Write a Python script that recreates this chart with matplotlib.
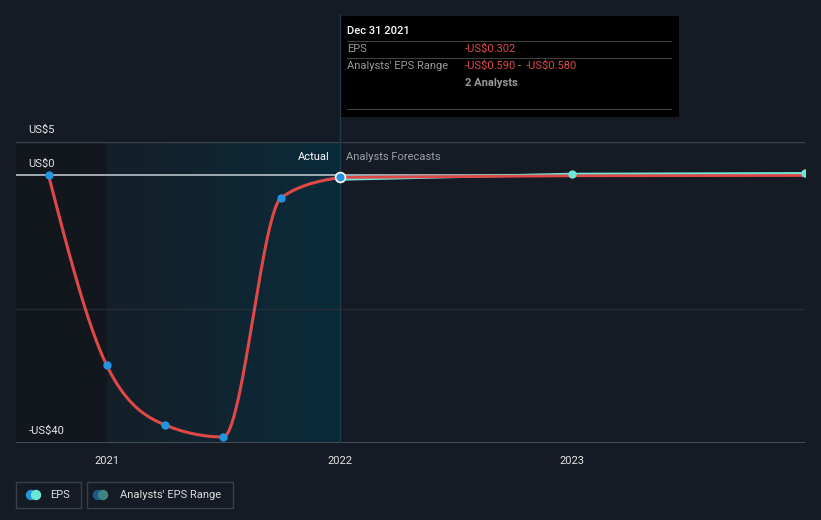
from matplotlib import pyplot as plt
from matplotlib.patches import Rectangle, Circle
from matplotlib.lines import Line2D
import numpy as np

plt.rcParams['font.family'] = ['Roboto', 'DejaVu Sans']

# 历史 EPS（年份小数）
hist_x = [2020.75, 2021.0, 2021.25, 2021.5, 2021.75, 2022.0]
hist_eps = [0.0, -28.4, -37.3, -39.1, -3.3, -0.302]

# 预测
fc_x = [2022.0, 2023.0, 2024.0]
fc_eps = [-0.302, -0.05, 0.0]
fc_range = [-0.585, 0.2, 0.3]

year_ticks = [2021, 2022, 2023]
y_labels = {5: 'US$5', 0: 'US$0', -40: '-US$40'}

BG = '#151b24'
RED = '#e04848'
BLUE = '#2394df'
CYAN = '#6ee6d6'


def monotone(x, y, n=60):
    # d3 curveMonotoneX 的做法
    x = np.asarray(x, float)
    y = np.asarray(y, float)
    h = np.diff(x)
    s = np.diff(y) / h
    t = np.zeros(len(x))
    for i in range(1, len(x) - 1):
        p = (s[i - 1] * h[i] + s[i] * h[i - 1]) / (h[i - 1] + h[i])
        t[i] = (np.sign(s[i - 1]) + np.sign(s[i])) * min(abs(s[i - 1]), abs(s[i]), 0.5 * abs(p))
    t[0] = (3 * s[0] - t[1]) / 2
    t[-1] = (3 * s[-1] - t[-2]) / 2
    xs, ys = [], []
    for i in range(len(x) - 1):
        u = np.linspace(0, 1, n)
        x0, x1 = x[i], x[i + 1]
        dx = (x1 - x0) / 3
        p0, p1 = (x0, y[i]), (x0 + dx, y[i] + dx * t[i])
        p2, p3 = (x1 - dx, y[i + 1] - dx * t[i + 1]), (x1, y[i + 1])
        bx = (1 - u) ** 3 * p0[0] + 3 * (1 - u) ** 2 * u * p1[0] + 3 * (1 - u) * u ** 2 * p2[0] + u ** 3 * p3[0]
        by = (1 - u) ** 3 * p0[1] + 3 * (1 - u) ** 2 * u * p1[1] + 3 * (1 - u) * u ** 2 * p2[1] + u ** 3 * p3[1]
        xs.extend(bx)
        ys.extend(by)
    return np.array(xs), np.array(ys)


fig = plt.figure(figsize=(8.21, 5.2), dpi=100, facecolor=BG)
ax = fig.add_axes([16 / 821, 77 / 520, 789 / 821, 301 / 520])
ax.set_facecolor(BG)
for sp in ax.spines.values():
    sp.set_visible(False)
ax.set_xticks([])
ax.set_yticks([])

# 阴影区域
ax.axvspan(2020.61, 2021.0, color='#12171e', zorder=0, lw=0)
grad = np.linspace(0, 1, 256).reshape(1, -1)
c0 = np.array([0x14, 0x1f, 0x29]) / 255
c1 = np.array([0x0b, 0x2b, 0x3a]) / 255
img = c0[None, None, :] * (1 - grad[..., None]) + c1[None, None, :] * grad[..., None]
ax.imshow(img, extent=[2021.0, 2022.0, -40, 5], aspect='auto', zorder=0.5)
ax.set_xlim(2020.61, 2024.0)
ax.set_ylim(-40, 5)

# 网格
ax.axhline(5, color='#3b424c', lw=1, zorder=1)
ax.axhline(-20, color='#262d36', lw=1, zorder=1)
ax.axhline(-40, color='#50565e', lw=1.2, zorder=1)
ax.axhline(0, color='#b8c2c8', lw=1.2, zorder=2)

# 竖线
ax.plot([2022.0, 2022.0], [-40, 5], color='#1f3a48', lw=1, zorder=1)
fig.add_artist(Line2D([340 / 821, 340 / 821], [378 / 520, 505 / 520], color='#1f3a48', lw=1))

# 曲线
sx, sy = monotone(hist_x, hist_eps)
ax.plot(sx, sy, color=RED, lw=2.2, zorder=3, solid_capstyle='round')
ax.plot(fc_x, fc_range, color=CYAN, lw=2, zorder=3)
ax.plot(fc_x, fc_eps, color=RED, lw=2, zorder=3.5)
ax.scatter(hist_x[:-1], hist_eps[:-1], s=36, color=BLUE, zorder=5, lw=0)
ax.scatter(hist_x[-1:], hist_eps[-1:], s=50, color=BLUE, edgecolors='white', lw=1.2, zorder=6)
ax.scatter(fc_x[1:], fc_range[1:], s=36, color=CYAN, zorder=5, lw=0)

# 标签
for v, lab in y_labels.items():
    ax.annotate(lab, (2020.61, v), xytext=(9, 5), textcoords='offset points',
                color='#e6e6e6', fontsize=8, va='bottom', ha='left')
for yr in year_ticks:
    ax.annotate(str(yr), (yr, -40), xytext=(0, -9), textcoords='offset points',
                color='#e6e6e6', fontsize=8, va='top', ha='center', annotation_clip=False)
ax.annotate('Actual', (2022.0, 5), xytext=(-7, -7), textcoords='offset points',
            color='#ffffff', fontsize=8, va='top', ha='right')
ax.annotate('Analysts Forecasts', (2022.0, 5), xytext=(5, -7), textcoords='offset points',
            color='#9aa0a6', fontsize=8, va='top', ha='left')

# 提示框
def fx(px):
    return px / 821


def fy(py):
    return 1 - py / 520


fig.add_artist(Rectangle((fx(340), fy(117)), fx(339), 101 / 520, color='black', lw=0))
for yy in [41, 58, 109]:
    fig.add_artist(Line2D([fx(347), fx(671)], [fy(yy), fy(yy)], color='#3f3f3f', lw=0.8))
fig.text(fx(347), fy(31), 'Dec 31 2021', color='white', fontsize=8, va='center', weight='medium')
fig.text(fx(347), fy(49), 'EPS', color='#9a9a9a', fontsize=8, va='center')
fig.text(fx(465), fy(49), '-US$0.302', color=RED, fontsize=8, va='center')
fig.text(fx(347), fy(66), "Analysts' EPS Range", color='#9a9a9a', fontsize=8, va='center')
fig.text(fx(465), fy(66), '-US$0.590', color=RED, fontsize=8, va='center')
fig.text(fx(518), fy(66), '-', color='#9a9a9a', fontsize=8, va='center')
fig.text(fx(526), fy(66), '-US$0.580', color=RED, fontsize=8, va='center')
fig.text(fx(465), fy(83), '2 Analysts', color='#9a9a9a', fontsize=8, va='center', weight='bold')

# 图例
for x0, w in [(16, 65), (87, 146)]:
    fig.add_artist(Rectangle((fx(x0), fy(508)), fx(w), 26 / 520, facecolor='none',
                             edgecolor='#3a3f47', lw=1))
leg_ax = fig.add_axes([0, 0, 1, 1], facecolor='none')
leg_ax.set_xlim(0, 821)
leg_ax.set_ylim(520, 0)
leg_ax.axis('off')
for cx, c1_, c2_ in [(31, BLUE, CYAN), (98, '#1f5a85', '#3b8585')]:
    leg_ax.add_patch(Circle((cx, 495), 4.5, color=c1_, zorder=2))
    leg_ax.add_patch(Circle((cx + 5, 495), 4.5, color=c2_, zorder=3))
fig.text(fx(50), fy(495), 'EPS', color='#dcdcdc', fontsize=8, va='center')
fig.text(fx(120), fy(495), "Analysts' EPS Range", color='#dcdcdc', fontsize=8, va='center')

fig.savefig('out.png', dpi=100, facecolor=BG)
